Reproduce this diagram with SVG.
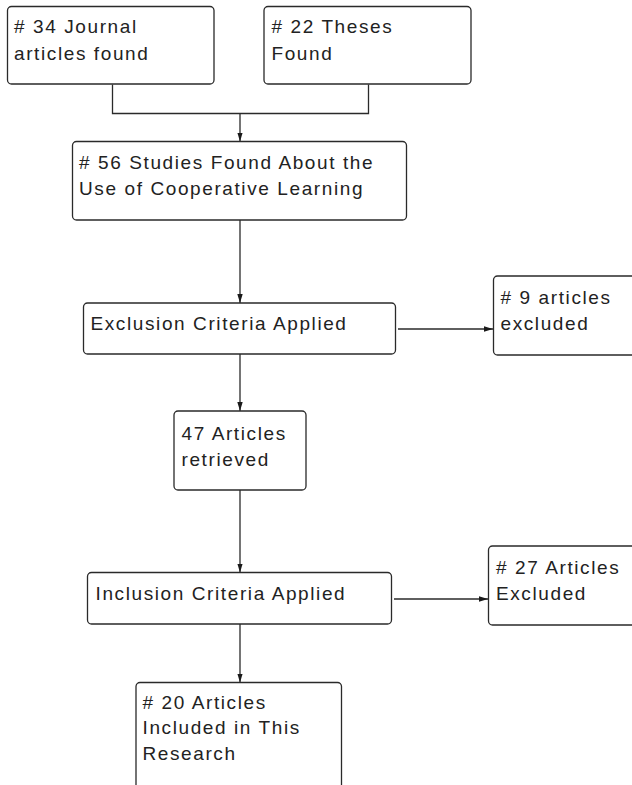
<svg xmlns="http://www.w3.org/2000/svg" width="632" height="785" viewBox="0 0 632 785">
<style>
.box{fill:#fff;stroke:#2a2a2a;stroke-width:1.3}
.lbl{font-family:"Liberation Sans",Arial,sans-serif;font-size:19px;letter-spacing:1.6px;fill:#222}
.con{fill:none;stroke:#2a2a2a;stroke-width:1.3}
</style>
<defs>
<marker id="arr" viewBox="0 0 9 7" refX="9" refY="3.5" markerWidth="9" markerHeight="7" markerUnits="userSpaceOnUse" orient="auto">
<path d="M0,0.8 L9,3.5 L0,6.2 Z" fill="#1a1a1a"/>
</marker>
</defs>
<rect width="632" height="785" fill="#fff"/>
<g id="connectors">
<path class="con" d="M112.5 84.5 V113.5 H368.5 V84.5"/>
<path class="con" d="M240 113.5 V141.5" marker-end="url(#arr)"/>
<path class="con" d="M240 220 V303" marker-end="url(#arr)"/>
<path class="con" d="M398 329 H493" marker-end="url(#arr)"/>
<path class="con" d="M240 354 V411" marker-end="url(#arr)"/>
<path class="con" d="M240 490 V572.5" marker-end="url(#arr)"/>
<path class="con" d="M394 599 H488" marker-end="url(#arr)"/>
<path class="con" d="M240 624 V682.5" marker-end="url(#arr)"/>
</g>
<g id="journal">
<rect class="box" x="7.5" y="6.5" width="206.5" height="77.5" rx="4"/>
<text class="lbl">
<tspan x="14" y="33"># 34 Journal</tspan>
<tspan x="14" y="59.5">articles found</tspan>
</text>
</g>
<g id="theses">
<rect class="box" x="264" y="6.5" width="207" height="77.5" rx="4"/>
<text class="lbl">
<tspan x="271.5" y="33"># 22 Theses</tspan>
<tspan x="271.5" y="59.5">Found</tspan>
</text>
</g>
<g id="studies">
<rect class="box" x="72.5" y="141.5" width="334" height="78.5" rx="4"/>
<text class="lbl">
<tspan x="79" y="168.5"># 56 Studies Found About the</tspan>
<tspan x="79" y="195">Use of Cooperative Learning</tspan>
</text>
</g>
<g id="exclusion">
<rect class="box" x="83.5" y="303" width="312" height="51" rx="4"/>
<text class="lbl" x="90.5" y="330">Exclusion Criteria Applied</text>
</g>
<g id="excluded9">
<rect class="box" x="493.5" y="276" width="150" height="79" rx="4"/>
<text class="lbl">
<tspan x="500.5" y="303.5"># 9 articles</tspan>
<tspan x="500.5" y="329.5">excluded</tspan>
</text>
</g>
<g id="retrieved">
<rect class="box" x="174" y="411" width="132" height="79" rx="4"/>
<text class="lbl">
<tspan x="181.5" y="440">47 Articles</tspan>
<tspan x="181.5" y="465.5">retrieved</tspan>
</text>
</g>
<g id="inclusion">
<rect class="box" x="87.5" y="572.5" width="304" height="51.5" rx="4"/>
<text class="lbl" x="95.5" y="600">Inclusion Criteria Applied</text>
</g>
<g id="excluded27">
<rect class="box" x="488.5" y="546" width="155" height="79" rx="4"/>
<text class="lbl">
<tspan x="496" y="573.5"># 27 Articles</tspan>
<tspan x="496" y="599.5">Excluded</tspan>
</text>
</g>
<g id="included20">
<rect class="box" x="136" y="682.5" width="205.5" height="115" rx="4"/>
<text class="lbl">
<tspan x="142.5" y="708.5"># 20 Articles</tspan>
<tspan x="142.5" y="734">Included in This</tspan>
<tspan x="142.5" y="759.5">Research</tspan>
</text>
</g>
</svg>
